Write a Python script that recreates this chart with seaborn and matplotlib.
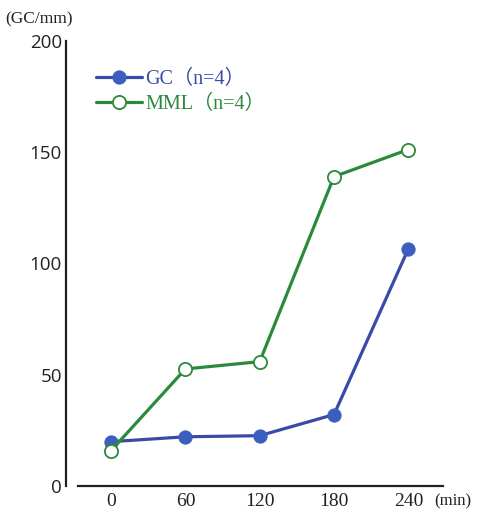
import matplotlib
matplotlib.use("Agg")
import matplotlib.pyplot as plt
import seaborn as sns
import pandas as pd

times = [0, 60, 120, 180, 240]
gc_values = [19.8, 22.0, 22.5, 32.0, 106.5]
mml_values = [15.8, 52.5, 55.8, 139.0, 151.2]
y_ticks = [0, 50, 100, 150, 200]
gc_label = "GC（n=4）"
mml_label = "MML（n=4）"

sns.set_style("white")
serif = ["Liberation Serif", "Noto Sans CJK JP"]
sans = ["Open Sans", "DejaVu Sans"]

df = pd.DataFrame({
    "time": times * 2,
    "value": gc_values + mml_values,
    "group": [gc_label] * len(times) + [mml_label] * len(times),
})

fig = plt.figure(figsize=(4.81, 5.14), dpi=100)
ax = fig.add_axes([66 / 481, 1 - 485.7 / 514, (443 - 66) / 481, (485.7 - 41) / 514])

blue_line = "#3a4aa6"
blue_fill = "#3c5fbf"
green = "#2a8a3c"

sns.lineplot(data=df[df.group == gc_label], x="time", y="value", ax=ax,
             color=blue_line, lw=2.3, marker="o", markersize=9.5,
             markerfacecolor=blue_fill, markeredgecolor=blue_fill,
             label=gc_label, zorder=3)
sns.lineplot(data=df[df.group == mml_label], x="time", y="value", ax=ax,
             color=green, lw=2.3, marker="o", markersize=9.5,
             markerfacecolor="white", markeredgecolor=green, markeredgewidth=1.3,
             label=mml_label, zorder=4)

ax.set_xlim(-36.4, 268)
ax.set_ylim(0, 200)
ax.set_xticks(times)
ax.set_yticks(y_ticks)
ax.set_xlabel("")
ax.set_ylabel("")

for s in ["top", "right"]:
    ax.spines[s].set_visible(False)
for s in ["left", "bottom"]:
    ax.spines[s].set_color("#222222")
    ax.spines[s].set_linewidth(1.6)
ax.spines["bottom"].set_bounds(-26.5, 268)

ax.tick_params(axis="both", direction="in", length=7, width=1.4, color="#222222")
ax.tick_params(axis="y", pad=3, labelsize=13.5, labelcolor="#222222")
ax.tick_params(axis="x", pad=5, labelsize=14, labelcolor="#222222")
for t in ax.get_yticklabels():
    t.set_family(sans)
for t in ax.get_xticklabels():
    t.set_family(serif)

fig.text(5 / 481, 1 - 19 / 514, "(GC/mm)", family=serif, fontsize=12.5,
         va="center", ha="left", color="#222222")
fig.text(434 / 481, 1 - 501 / 514, "(min)", family=serif, fontsize=12,
         va="center", ha="left", color="#222222")

leg = ax.legend(loc="upper left", bbox_to_anchor=(96 / 481, 1 - 70 / 514),
                bbox_transform=fig.transFigure, frameon=False,
                handlelength=2.3, handletextpad=0.15, labelspacing=0.3,
                borderpad=0, borderaxespad=0,
                prop={"family": serif, "size": 14.5})
for text, c in zip(leg.get_texts(), [blue_line, green]):
    text.set_color(c)

fig.savefig("out.png", dpi=100)
